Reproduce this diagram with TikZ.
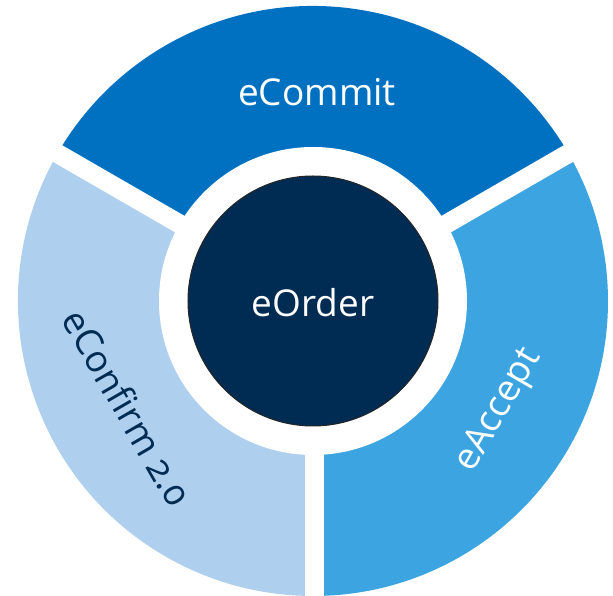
\documentclass[tikz,border=0pt]{standalone}
\usepackage{fontspec}
\setmainfont{Open Sans}[Numbers=OldStyle]
\definecolor{segtop}{HTML}{0071C1}
\definecolor{segright}{HTML}{3CA5E1}
\definecolor{segleft}{HTML}{AECFEE}
\definecolor{hub}{HTML}{002B53}
\tikzset{
  seglabel/.style={font=\fontsize{37}{44}\selectfont, inner sep=0pt},
  gapband/.style={draw=white, line width=19pt},
}
\begin{document}
\begin{tikzpicture}[x=1pt,y=1pt]
\useasboundingbox (-313,-295) rectangle (300,301);
\fill[white] (-313,-295) rectangle (300,301);
% segments
\fill[segtop]   (0,0) -- (30:295pt)  arc[start angle=30,  end angle=150, radius=295pt] -- cycle;
\fill[segleft]  (0,0) -- (150:295pt) arc[start angle=150, end angle=270, radius=295pt] -- cycle;
\fill[segright] (0,0) -- (270:295pt) arc[start angle=270, end angle=390, radius=295pt] -- cycle;
% white gaps
\fill[white] (0,0) circle[radius=154pt];
\coordinate (c) at (0,0);
\coordinate (g1) at (30:310pt);
\coordinate (g2) at (150:310pt);
\coordinate (g3) at (1,-310);
\draw[gapband] (c) -- (g1);
\draw[gapband] (c) -- (g2);
\draw[gapband] (1,0) -- (g3);
% hub
\node[circle, minimum size=250pt, fill=hub, draw=black!85, line width=1pt, inner sep=0pt] (hubc) at (0,0) {};
\node[seglabel, text=white] (order) at (0,-2) {eOrder};
\node[seglabel, text=white] (commit) at (4,209) {eCommit};
\node[seglabel, text=white, rotate=60] (accept) at (-30.5:216pt) {eAccept};
\node[seglabel, text=hub, rotate=-60] (confirm) at (210:214pt) {eConfirm 2.0};
\end{tikzpicture}
\end{document}
